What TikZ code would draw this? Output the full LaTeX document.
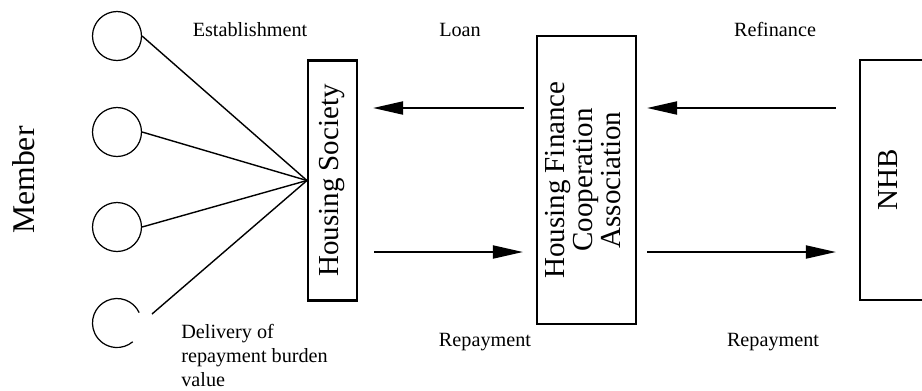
\documentclass[tikz,border=0pt]{standalone}
\usepackage{fontspec}
\setmainfont{Liberation Serif}
\usepackage{tikz}
\usetikzlibrary{arrows.meta}
\usetikzlibrary{calc}
\tikzset{box/.style = {draw, line width=1.2pt, inner sep=0pt,
                       font=\fontsize{16.5}{16}\selectfont},
         member/.style = {draw, circle, line width=0.7pt,
                          minimum size=0.98cm, inner sep=0pt},
         flow/.style = {-{Triangle[length=0.6cm, width=0.26cm]},
                        line width=1.1pt},
         lbl/.style = {font=\fontsize{11.5}{13.6}\selectfont, inner sep=0pt}}

\begin{document}
\begin{tikzpicture}[x=0.02cm, y=-0.02cm]
      \useasboundingbox (0,0) rectangle (922,390);
      \clip (0,0) rectangle (922,390);

      \node [member] (m1) at (117,36) {};
      \node [member] (m2) at (117,132) {};
      \node [member] (m3) at (117,227) {};
      \coordinate (m4) at (117,323);
      \draw [line width=0.7pt] ([shift={(25:0.49cm)}]m4)
            arc [start angle=25, end angle=310, radius=0.49cm];
      \coordinate (m4out) at (152,314);

      \node [box, minimum width=0.98cm, minimum height=4.8cm] (hs) at (332.5,180.5)
            {\rotatebox{90}{Housing Society}};
      \node [box, minimum width=1.98cm, minimum height=5.76cm] (hfca) at (586.5,180)
            {\rotatebox{90}{\begin{tabular}{@{}c@{}}Housing Finance\\ Cooperation\\ Association\end{tabular}}};
      \node [box, minimum width=2.4cm, minimum height=4.8cm] (nhb) at (920,180) {};
      \node [font=\fontsize{16.5}{16}\selectfont, inner sep=0pt] (nhbtxt) at (888,180)
            {\rotatebox{90}{NHB}};

      \foreach \m in {m1, m2, m3}
        \draw [line width=0.8pt] (\m.east) -- (hs.west);
      \draw [line width=0.8pt] (m4out) -- (hs.west);

      \coordinate (top) at (0,108);
      \coordinate (bot) at (0,252);
      \draw [flow, shorten <=0.24cm, shorten >=0.3cm] (hfca.west |- top) -- (hs.east |- top);
      \draw [flow, shorten <=0.32cm, shorten >=0.26cm] (hs.east |- bot) -- (hfca.west |- bot);
      \draw [flow, shorten <=0.46cm, shorten >=0.2cm] (nhb.west |- top) -- (hfca.east |- top);
      \draw [flow, shorten <=0.2cm, shorten >=0.46cm] (hfca.east |- bot) -- (nhb.west |- bot);

      \node [font=\fontsize{18}{20}\selectfont, rotate=90, inner sep=0pt] (mem) at (24,180) {Member};
      \node [lbl, anchor=base] (est) at (250,36) {Establishment};
      \node [lbl, anchor=base] (loan) at (460,36) {Loan};
      \node [lbl, anchor=base] (refi) at (775,36) {Refinance};
      \node [lbl, anchor=base] (rep1) at (485,346) {Repayment};
      \node [lbl, anchor=base] (rep2) at (773,346) {Repayment};
      \node [lbl, anchor=base west, align=left] (dlv) at (181,386)
            {Delivery of\\ repayment burden\\ value};
    \end{tikzpicture}
\end{document}
